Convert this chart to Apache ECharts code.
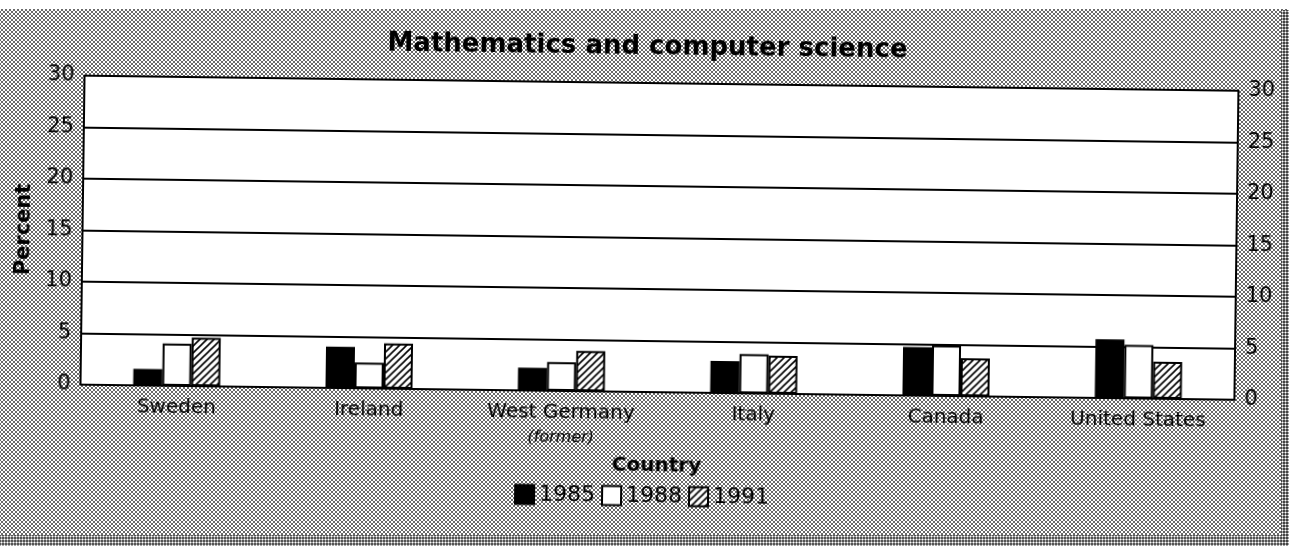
<!DOCTYPE html>
<html>
<head>
<meta charset="utf-8">
<script src="https://cdn.jsdelivr.net/npm/echarts@6/dist/echarts.min.js"></script>
<style>
    html, body {
        margin: 0;
        padding: 0;
    }
    body {
        width: 1289px;
        height: 546px;
        overflow: hidden;
        position: relative;
        background-color: #fff;
        /* halftone dots of the scanned page */
        background-image: radial-gradient(circle, #6a6a6a 0.9px, transparent 1.3px),
            radial-gradient(circle, #6a6a6a 0.9px, transparent 1.3px);
        background-size: 4px 4px, 4px 4px;
        background-position: 0 0, 2px 2px;
    }
    .top-strip {
        position: absolute; left: 0; top: 0; width: 1289px; height: 9px; background: #fff;
    }
    .bottom-strip {
        position: absolute; left: 0; top: 535px; width: 1289px; height: 11px;
        background-color: #555;
        background-image: radial-gradient(circle, #fff 0.8px, transparent 1.2px);
        background-size: 3px 3px;
    }
    .right-strip {
        position: absolute; left: 1281px; top: 10px; width: 8px; height: 536px;
        background-color: #444;
        background-image: radial-gradient(circle, #fff 0.8px, transparent 1.2px);
        background-size: 3px 3px;
    }
    #chart {
        position: absolute;
        left: 0;
        top: 0;
        width: 1289px;
        height: 546px;
        transform: rotate(0.75deg);
    }
</style>
</head>
<body>
<div class="top-strip"></div>
<div class="bottom-strip"></div>
<div class="right-strip"></div>
<div id="chart"></div>
<script>
// data (percent)
const countries = ["Sweden", "Ireland", "West Germany (former)", "Italy", "Canada", "United States"];
const years = ["1985", "1988", "1991"];
const v1985 = [1.6, 4.0, 2.2, 3.1, 4.7, 5.7];
const v1988 = [4.1, 2.5, 2.8, 3.8, 4.9, 5.2];
const v1991 = [4.7, 4.4, 3.9, 3.7, 3.7, 3.6];
const yTicks = [0, 5, 10, 15, 20, 25, 30];

const FONT = "DejaVu Sans";

// diagonal hatch for 1991
function hatch() {
    const c = document.createElement("canvas");
    c.width = 7;
    c.height = 7;
    const g = c.getContext("2d");
    g.fillStyle = "#fff";
    g.fillRect(0, 0, 7, 7);
    g.strokeStyle = "#000";
    g.lineWidth = 1.6;
    g.beginPath();
    g.moveTo(-1, 8); g.lineTo(8, -1);
    g.moveTo(-4, 4); g.lineTo(4, -4);
    g.moveTo(3, 11); g.lineTo(11, 3);
    g.stroke();
    return c;
}

let myChart = echarts.init(document.getElementById("chart"));

const yAxisBase = {
    type: "value",
    min: yTicks[0],
    max: yTicks[yTicks.length - 1],
    interval: yTicks[1] - yTicks[0],
    axisTick: { show: false },
    axisLine: { show: true, lineStyle: { color: "#000", width: 2 } },
    axisLabel: { color: "#000", fontFamily: FONT, fontSize: 21 },
};

let option = {
    animation: false,
    title: {
        text: "Mathematics and computer science",
        left: "center",
        top: 29,
        textStyle: { fontFamily: FONT, fontSize: 26, fontWeight: "bold", color: "#000" },
    },
    grid: {
        left: 82,
        top: 83,
        width: 1154,
        height: 309,
        show: true,
        backgroundColor: "#fff",
        borderColor: "#000",
        borderWidth: 2,
    },
    legend: {
        data: years,
        left: "center",
        top: 480,
        icon: "rect",
        itemWidth: 19,
        itemHeight: 19,
        itemGap: 6,
        textStyle: { fontFamily: FONT, fontSize: 22, color: "#000" },
    },
    xAxis: {
        type: "category",
        data: countries,
        name: "Country",
        nameLocation: "middle",
        nameGap: 64,
        nameTextStyle: { fontFamily: FONT, fontSize: 20, fontWeight: "bold", color: "#000" },
        axisTick: { show: false },
        axisLine: { show: true, lineStyle: { color: "#000", width: 2 } },
        axisLabel: {
            color: "#000",
            fontFamily: FONT,
            fontSize: 20,
            margin: 9,
            lineHeight: 25,
            formatter: function (v) {
                return v.replace(" (former)", "\n{i|(former)}");
            },
            rich: {
                i: { fontFamily: FONT, fontSize: 16, fontStyle: "italic", color: "#000", lineHeight: 25 },
            },
        },
    },
    yAxis: [
        Object.assign({}, yAxisBase, {
            position: "left",
            name: "Percent",
            nameLocation: "middle",
            nameGap: 36,
            nameRotate: 90,
            nameTextStyle: { fontFamily: FONT, fontSize: 21, fontWeight: "bold", color: "#000" },
            axisLabel: Object.assign({}, yAxisBase.axisLabel, { margin: 10 }),
            splitLine: { show: true, lineStyle: { color: "#000", width: 2 } },
        }),
        Object.assign({}, yAxisBase, {
            position: "right",
            axisLabel: Object.assign({}, yAxisBase.axisLabel, { margin: 10 }),
            splitLine: { show: false },
        }),
    ],
    series: [
        {
            type: "bar",
            name: years[0],
            data: v1985,
            barWidth: 29,
            barGap: "0%",
            itemStyle: { color: "#000", borderColor: "#000", borderWidth: 2 },
        },
        {
            type: "bar",
            name: years[1],
            data: v1988,
            barWidth: 29,
            barGap: "0%",
            itemStyle: { color: "#fff", borderColor: "#000", borderWidth: 2 },
        },
        {
            type: "bar",
            name: years[2],
            data: v1991,
            barWidth: 29,
            barGap: "0%",
            itemStyle: {
                color: { image: hatch(), repeat: "repeat" },
                borderColor: "#000",
                borderWidth: 2,
            },
        },
    ],
};
myChart.setOption(option);
</script>
</body>
</html>
